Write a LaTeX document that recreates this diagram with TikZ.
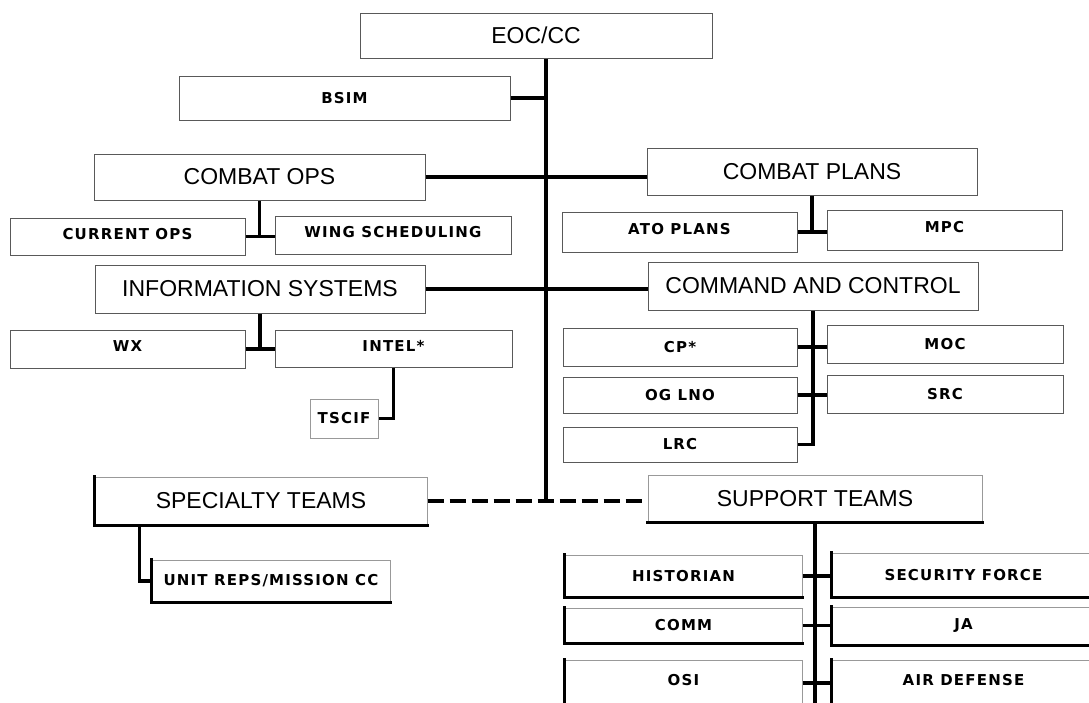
\documentclass[tikz,border=0pt]{standalone}
\usepackage{fontspec}
\setmainfont{Liberation Sans}
\newfontfamily\smallbf[LetterSpace=8]{DejaVu Sans}
\begin{document}
\begin{tikzpicture}[x=1pt,y=-1pt,
  box/.style={draw=black!65,line width=1pt,fill=white,inner sep=0pt,align=center},
  big/.style={box,font=\fontsize{23}{26}\selectfont},
  sml/.style={box,font=\smallbf\bfseries\fontsize{15}{17}\selectfont},
  up/.style={text height=11pt,text depth=6pt},
  link/.style={line width=3.2pt,black},
  dlink/.style={line width=3.2pt,black,dash pattern=on 16pt off 6pt},
  edge/.style={line width=3pt,black,line cap=rect}]
\useasboundingbox (0,0) rectangle (1089,702);
\clip (0,0) rectangle (1089,702);
% top
\node[big,minimum width=352,minimum height=45] (eoc) at (536,35.5) {EOC/CC};
\node[sml,minimum width=331,minimum height=44] (bsim) at (344.5,98) {BSIM};
\node[big,minimum width=331,minimum height=46] (cops) at (259.5,177) {COMBAT OPS};
\node[big,minimum width=330,minimum height=47] (cplans) at (812,171.5) {COMBAT PLANS};
\node[sml,up,minimum width=235,minimum height=37] (curops) at (127.5,236.5) {CURRENT OPS};
\node[sml,up,minimum width=236,minimum height=38] (wing) at (393,235) {WING SCHEDULING};
\node[sml,up,minimum width=235,minimum height=40] (ato) at (679.5,232) {ATO PLANS};
\node[sml,up,minimum width=235,minimum height=40] (mpc) at (944.5,230) {MPC};
\node[big,minimum width=330,minimum height=48] (infsys) at (260,289) {INFORMATION SYSTEMS};
\node[big,minimum width=330,minimum height=48] (cc) at (813,286) {COMMAND AND CONTROL};
\node[sml,up,minimum width=235,minimum height=38] (wx) at (127.5,349) {WX};
\node[sml,up,minimum width=237,minimum height=37] (intel) at (393.5,348.5) {INTEL*};
\node[sml,draw=black!40,minimum width=68,minimum height=39] (tscif) at (344,418.5) {TSCIF};
\node[sml,minimum width=234,minimum height=38] (cp) at (680,347) {CP*};
\node[sml,minimum width=236,minimum height=38] (moc) at (945,344) {MOC};
\node[sml,minimum width=234,minimum height=36] (oglno) at (680,395) {OG LNO};
\node[sml,minimum width=236,minimum height=38] (src) at (945,394) {SRC};
\node[sml,minimum width=234,minimum height=35] (lrc) at (680,444.5) {LRC};
% bottom
\node[big,draw=black!40,minimum width=332,minimum height=48] (spec) at (261,501) {SPECIALTY TEAMS};
\node[big,draw=black!40,minimum width=334,minimum height=47] (supp) at (815,498.5) {SUPPORT TEAMS};
\node[sml,draw=black!40,minimum width=238,minimum height=42] (unit) at (271,581) {UNIT REPS/MISSION CC};
\node[sml,draw=black!40,minimum width=237,minimum height=42] (hist) at (683.5,576) {HISTORIAN};
\node[sml,draw=black!40,minimum width=263,minimum height=44] (secf) at (963.5,575) {SECURITY FORCE};
\node[sml,draw=black!40,minimum width=237,minimum height=35] (comm) at (683.5,625.5) {COMM};
\node[sml,draw=black!40,minimum width=263,minimum height=38] (ja) at (963.5,626) {JA};
\node[sml,up,draw=black!40,minimum width=237,minimum height=46] (osi) at (683.5,683) {OSI};
\node[sml,up,draw=black!40,minimum width=263,minimum height=46] (airdef) at (963.5,683) {AIR DEFENSE};
% thick edges
\foreach \n in {spec,unit,hist,secf,comm,ja}{
  \draw[edge] (\n.north west) -- (\n.south west) -- (\n.south east);}
\draw[edge] (supp.south west) -- (supp.south east);
\draw[edge] (osi.north west) -- (osi.south west);
\draw[edge] (airdef.north west) -- (airdef.south west);
% trunk
\coordinate (trunkbot) at (546,499);
\draw[link] (eoc.south -| trunkbot) -- (trunkbot);
\draw[link] (bsim.east) -- (bsim.east -| trunkbot);
\draw[link] (cops.east) -- (cops.east -| cplans.west);
\draw[link] (infsys.east) -- (infsys.east -| cc.west);
% combat ops
\draw[link] (cops.south) -- (cops.south |- curops.east);
\draw[link] (curops.east) -- (curops.east -| wing.west);
% combat plans
\draw[link] (cplans.south) -- (cplans.south |- ato.east);
\draw[link] (ato.east) -- (ato.east -| mpc.west);
% information systems
\draw[link] (infsys.south) -- (infsys.south |- wx.east);
\draw[link] (wx.east) -- (wx.east -| intel.west);
\draw[link] (intel.south) |- (tscif.east);
% command and control
\draw[link] (cc.south) |- (lrc.east);
\draw[link] (cp.east) -- (cp.east -| moc.west);
\draw[link] (oglno.east) -- (oglno.east -| src.west);
% teams
\draw[dlink] (spec.east) -- (spec.east -| supp.west);
\draw[link] ([xshift=45pt]spec.south west) |- (unit.west);
\draw[link] (supp.south) -- (supp.south |- osi.south);
\draw[link] (hist.east) -- (hist.east -| secf.west);
\draw[link] (comm.east) -- (comm.east -| ja.west);
\draw[link] (osi.east) -- (osi.east -| airdef.west);
\end{tikzpicture}
\end{document}
